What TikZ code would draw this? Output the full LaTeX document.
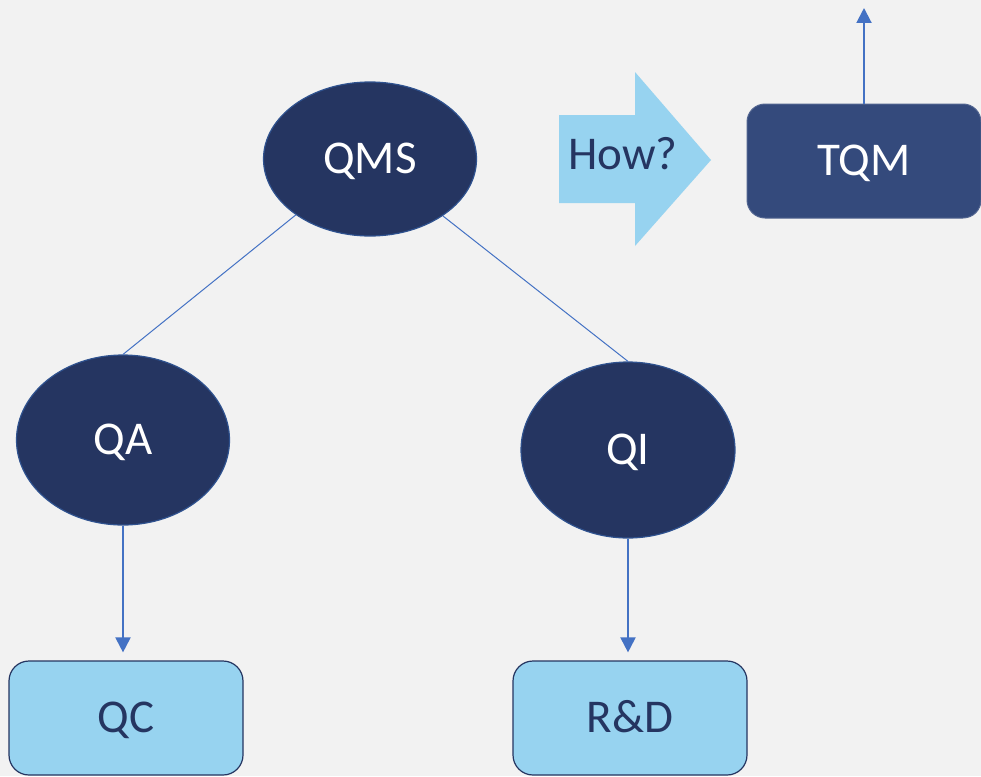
\documentclass[tikz,border=0pt]{standalone}
\usepackage{fontspec}
\setmainfont{Carlito}
\usetikzlibrary{shapes.geometric,arrows.meta}
\definecolor{bgcol}{HTML}{F2F2F2}
\definecolor{navy}{HTML}{253561}
\definecolor{navyedge}{HTML}{2F528F}
\definecolor{tqmfill}{HTML}{344A7C}
\definecolor{skyfill}{HTML}{97D3F0}
\definecolor{linkblue}{HTML}{4472C4}
\tikzset{
  bigtext/.style={font=\fontsize{47}{56}\selectfont, text height=28pt, text depth=0pt},
  bubble/.style={ellipse, draw=navyedge, line width=1.2pt, fill=navy,
    text=white, inner sep=0pt, bigtext},
  lightbox/.style={rectangle, rounded corners=20pt, draw=navy, line width=1.2pt,
    fill=skyfill, text=navy, minimum width=234pt, minimum height=114pt,
    inner sep=0pt, bigtext},
  darkbox/.style={rectangle, rounded corners=18pt, draw=tqmfill!85!white, line width=1pt,
    fill=tqmfill, text=white, minimum width=234pt, minimum height=114pt,
    inner sep=0pt, bigtext},
  link/.style={draw=linkblue, line width=1pt},
  flow/.style={draw=linkblue, line width=2pt,
    -{Triangle[width=15pt,length=15pt]}, shorten >=8pt},
}
\begin{document}
\begin{tikzpicture}[x=1pt,y=-1pt]
  \fill[bgcol] (0,0) rectangle (981,776);
  \useasboundingbox (0,0) rectangle (981,776);

  % ellipses
  \node[bubble, minimum width=213pt, minimum height=154pt] (qms) at (370,159) {QMS};
  \node[bubble, minimum width=213pt, minimum height=170pt] (qa) at (123,440) {QA};
  \node[bubble, minimum width=214pt, minimum height=176pt] (qi) at (628,450) {QI};

  % boxes
  \node[lightbox] (qc) at (126,718) {QC};
  \node[lightbox] (rd) at (630,718) {R\&D};
  \node[darkbox] (tqm) at (864,161) {TQM};
  \coordinate (top) at (864,8);

  % "How?" block arrow
  \fill[skyfill] (559,115) -- (635,115) -- (635,72) -- (711,160)
    -- (635,246) -- (635,203) -- (559,203) -- cycle;
  \node[text=navy, bigtext, inner sep=0pt] (how) at (623,155) {How?};

  % connectors
  \path[link] (qms.217) -- (qa.north);
  \path[link] (qms.322) -- (qi.north);
  \path[flow] (qa.south) -- (qc.north -| qa.south);
  \path[flow] (qi.south) -- (rd.north -| qi.south);
  \path[flow, shorten >=0pt] (tqm.north) -- (top);
\end{tikzpicture}
\end{document}
